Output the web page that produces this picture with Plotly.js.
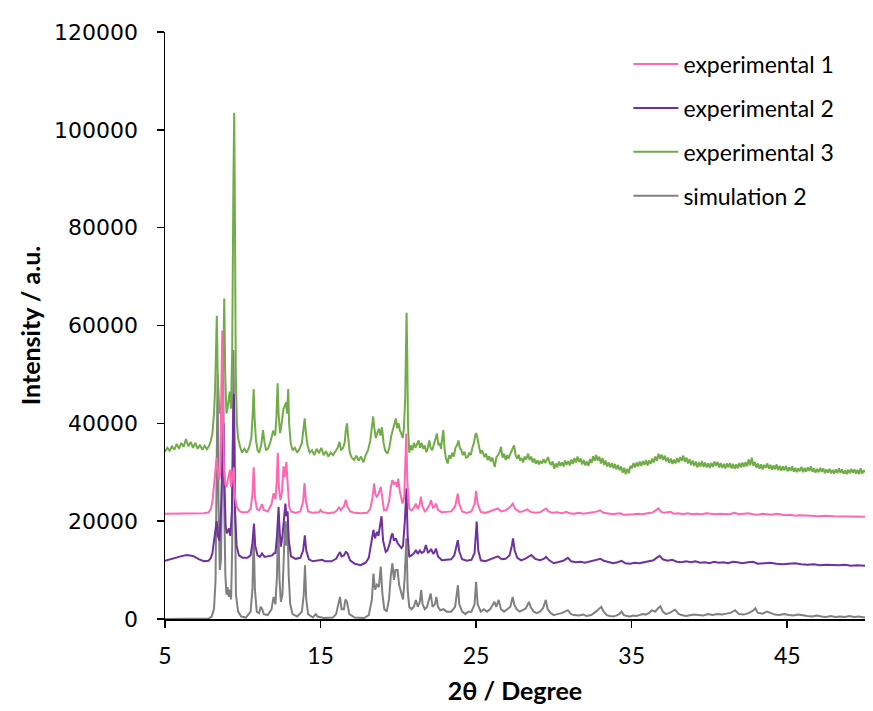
<!DOCTYPE html>
<html><head><meta charset="utf-8">
<script src="https://cdn.plot.ly/plotly-3.0.1.min.js"></script>
<style>html,body{margin:0;padding:0;background:#fff;}#chart{width:873px;height:711px;}</style>
</head><body><div id="chart"></div>
<script>
const seriesNames = ["experimental 1", "experimental 2", "experimental 3", "simulation 2"];
const seriesColors = ["#FF66B3", "#7030A0", "#70AD47", "#808080"];
const xTickVals = [5, 15, 25, 35, 45];
const yTickVals = [0, 20000, 40000, 60000, 80000, 100000, 120000];

const exp1 = [[5.0,21500],[5.5,21500],[6.0,21550],[6.5,21600],[7.0,21550],[7.5,21600],[7.8,21800],[7.95,22500],[8.05,24000],[8.15,27000],[8.25,30000],[8.32,33000],[8.4,30000],[8.48,28500],[8.55,30000],[8.62,42000],[8.68,59000],[8.74,40000],[8.8,30000],[8.88,27500],[8.95,27000],[9.02,28000],[9.1,29000],[9.18,30500],[9.25,27000],[9.33,29000],[9.42,31000],[9.5,25000],[9.6,23000],[9.8,22000],[10.0,21800],[10.3,21800],[10.5,22500],[10.62,25500],[10.7,31000],[10.78,25000],[10.9,22500],[11.05,22200],[11.13,22800],[11.24,23500],[11.35,22300],[11.6,22000],[11.85,23500],[11.98,25700],[12.1,24500],[12.18,28000],[12.25,34000],[12.32,27000],[12.42,24300],[12.52,26000],[12.62,31200],[12.7,29000],[12.8,32100],[12.88,27000],[12.98,23000],[13.1,22000],[13.4,21700],[13.7,22000],[13.88,24000],[13.97,27800],[14.06,24000],[14.2,22000],[14.5,21700],[14.9,21800],[15.0,22300],[15.1,21900],[15.5,21600],[15.9,21800],[16.05,22200],[16.18,22800],[16.3,22300],[16.5,23000],[16.62,24400],[16.72,23000],[16.9,22000],[17.2,21700],[17.6,21600],[18.0,21700],[18.2,22500],[18.35,25000],[18.44,27700],[18.53,25500],[18.6,25000],[18.72,25500],[18.87,27000],[18.98,24500],[19.08,22200],[19.25,22300],[19.4,24000],[19.52,27000],[19.62,28400],[19.72,27500],[19.84,28000],[19.92,27000],[19.99,28700],[20.1,26000],[20.27,23600],[20.38,25000],[20.46,31000],[20.51,37900],[20.58,28000],[20.7,22600],[20.85,22200],[21.0,22700],[21.13,23600],[21.25,22500],[21.38,23500],[21.45,25000],[21.55,23000],[21.7,22000],[21.85,22500],[22.0,23300],[22.1,24300],[22.22,22800],[22.35,23000],[22.42,23600],[22.55,22300],[22.8,21800],[23.1,21900],[23.4,22000],[23.65,23000],[23.75,24800],[23.82,25600],[23.92,23500],[24.1,22000],[24.4,21700],[24.7,22000],[24.9,23500],[25.0,26200],[25.1,23500],[25.3,21900],[25.6,21700],[25.9,22000],[26.15,22400],[26.4,22600],[26.6,22000],[26.9,22200],[27.15,22800],[27.36,23600],[27.5,22500],[27.8,21900],[28.0,22000],[28.3,22400],[28.5,21900],[28.8,21700],[29.1,21800],[29.35,22200],[29.5,22600],[29.65,22000],[29.9,21700],[30.2,21800],[30.5,21600],[30.8,21900],[31.0,21600],[31.3,21500],[31.6,21700],[31.9,21500],[32.2,21600],[32.5,21800],[32.8,22000],[32.96,22200],[33.2,21700],[33.5,21500],[33.8,21400],[34.0,21500],[34.25,21600],[34.5,21300],[34.8,21300],[35.1,21400],[35.4,21500],[35.7,21400],[36.0,21600],[36.3,21700],[36.55,22200],[36.72,22600],[36.9,21900],[37.1,21700],[37.3,21800],[37.5,21900],[37.7,21500],[38.0,21600],[38.3,21400],[38.6,21600],[38.9,21400],[39.2,21500],[39.5,21400],[39.8,21600],[40.1,21500],[40.4,21400],[40.7,21500],[41.0,21500],[41.3,21400],[41.6,21700],[41.9,21400],[42.2,21500],[42.5,21600],[42.8,21400],[43.1,21300],[43.4,21500],[43.7,21400],[44.0,21300],[44.3,21500],[44.6,21300],[44.9,21200],[45.2,21300],[45.5,21100],[45.8,21200],[46.1,21100],[46.5,21100],[47.0,21000],[47.5,21100],[48.0,21000],[48.5,21000],[49.0,21000],[49.5,20900],[50.0,20900]];

const exp2 = [[5.0,11900],[5.5,12400],[6.0,12800],[6.4,13100],[6.8,12900],[7.2,12200],[7.5,11800],[7.8,11900],[7.95,12500],[8.05,13500],[8.15,16000],[8.25,18000],[8.32,20000],[8.4,17000],[8.5,16000],[8.6,22000],[8.7,35000],[8.76,40000],[8.82,28000],[8.9,19000],[8.98,17500],[9.05,18000],[9.12,18500],[9.2,17000],[9.3,22000],[9.38,40000],[9.43,46000],[9.5,22000],[9.6,15000],[9.75,13000],[10.0,12500],[10.3,12500],[10.5,13000],[10.62,15500],[10.72,19500],[10.8,15000],[10.95,13000],[11.1,12700],[11.24,13400],[11.4,12700],[11.7,12800],[11.9,13000],[11.99,13400],[12.1,13500],[12.2,17000],[12.3,22900],[12.37,18000],[12.45,14800],[12.55,17000],[12.65,21000],[12.74,23600],[12.8,21000],[12.88,22000],[12.96,16000],[13.1,12800],[13.4,12300],[13.7,12500],[13.88,14000],[13.99,17100],[14.08,14000],[14.25,12200],[14.5,11800],[14.8,11900],[15.1,12100],[15.3,11800],[15.7,11800],[16.0,12300],[16.15,13200],[16.25,13700],[16.35,12800],[16.5,13000],[16.62,13700],[16.72,13500],[16.9,12000],[17.2,11300],[17.58,11000],[17.9,11500],[18.1,12500],[18.25,15000],[18.4,18200],[18.5,16500],[18.62,17800],[18.72,17000],[18.82,19000],[18.92,21000],[19.02,16000],[19.19,13700],[19.3,14000],[19.45,15500],[19.55,17000],[19.62,17500],[19.72,16000],[19.84,16500],[19.95,15500],[20.1,15000],[20.2,14500],[20.3,15000],[20.42,20000],[20.52,26700],[20.6,17000],[20.7,12700],[20.85,13000],[21.0,13400],[21.13,14100],[21.25,13300],[21.38,14000],[21.5,13500],[21.65,13800],[21.77,15100],[21.9,13600],[22.0,13800],[22.1,14300],[22.25,13300],[22.35,13800],[22.42,14400],[22.55,12800],[22.8,12000],[23.1,12100],[23.4,12200],[23.6,13000],[23.74,14800],[23.82,16100],[23.92,13800],[24.1,12200],[24.4,11900],[24.7,12100],[24.9,13500],[25.04,19900],[25.14,14000],[25.3,12000],[25.6,11800],[25.9,12100],[26.15,12500],[26.4,12800],[26.65,12200],[26.9,12300],[27.15,13000],[27.3,15000],[27.37,16500],[27.48,14000],[27.65,12500],[27.9,12000],[28.2,12400],[28.55,13100],[28.8,12300],[29.1,12000],[29.35,12300],[29.5,12700],[29.7,12000],[30.0,11400],[30.3,11700],[30.6,11900],[30.9,12500],[31.1,11800],[31.4,11600],[31.7,11700],[32.0,11500],[32.3,11700],[32.6,11900],[32.8,12100],[33.0,12300],[33.2,11900],[33.5,11600],[33.8,11400],[34.1,11600],[34.35,11900],[34.6,11400],[34.9,11300],[35.2,11500],[35.5,11400],[35.8,11600],[36.1,11800],[36.4,12000],[36.6,12500],[36.8,12900],[37.0,12200],[37.3,11900],[37.6,12100],[37.9,11700],[38.2,11600],[38.5,11800],[38.8,11600],[39.1,11800],[39.4,11500],[39.7,11600],[40.0,11400],[40.3,11700],[40.6,11500],[40.9,11600],[41.2,11400],[41.5,11700],[41.8,11600],[42.1,11400],[42.5,11600],[42.8,11700],[43.1,11300],[43.5,11400],[43.9,11500],[44.3,11300],[44.7,11200],[45.1,11300],[45.5,11400],[45.9,11200],[46.3,11100],[46.7,11200],[47.1,11000],[47.5,11100],[47.9,11000],[48.3,11000],[48.7,11100],[49.1,10900],[49.5,11000],[50.0,10900]];

const exp3 = [[5.0,34200],[5.15,35000],[5.3,34400],[5.45,35300],[5.6,34600],[5.75,35800],[5.9,34800],[6.05,36000],[6.2,35200],[6.35,36800],[6.5,35300],[6.65,36200],[6.8,35000],[6.95,36000],[7.1,34800],[7.25,35600],[7.4,34600],[7.55,35400],[7.7,34700],[7.85,35500],[7.95,36500],[8.05,38000],[8.15,42000],[8.22,47000],[8.28,55000],[8.33,62000],[8.39,50000],[8.47,44000],[8.55,42000],[8.65,44000],[8.74,52000],[8.81,65500],[8.87,50000],[8.95,42000],[9.02,43000],[9.1,45000],[9.16,46500],[9.24,43000],[9.32,55000],[9.4,90000],[9.45,103500],[9.5,80000],[9.55,50000],[9.62,40000],[9.7,37000],[9.8,35500],[9.95,34000],[10.1,34800],[10.25,34000],[10.4,35000],[10.55,37000],[10.64,42000],[10.7,47000],[10.76,41000],[10.85,36500],[10.95,34500],[11.05,34000],[11.18,35500],[11.3,38600],[11.4,36000],[11.5,34500],[11.65,35000],[11.8,36500],[11.95,38500],[12.08,37500],[12.16,41000],[12.24,48200],[12.3,42000],[12.4,38000],[12.5,40000],[12.62,43000],[12.7,43500],[12.78,44300],[12.85,42000],[12.92,47000],[12.98,40000],[13.08,36000],[13.2,34500],[13.35,35000],[13.5,34000],[13.65,34800],[13.8,36000],[13.9,38500],[13.98,41000],[14.06,38000],[14.16,35500],[14.3,34000],[14.45,34500],[14.6,33500],[14.75,34800],[14.9,33900],[15.05,35000],[15.2,33500],[15.35,34300],[15.5,33200],[15.65,34000],[15.8,33500],[15.95,34400],[16.1,35000],[16.22,36200],[16.32,34500],[16.45,35000],[16.55,36000],[16.62,38500],[16.7,40000],[16.78,37000],[16.88,34000],[17.0,33000],[17.15,32500],[17.3,33400],[17.45,32400],[17.6,33200],[17.75,32000],[17.9,33500],[18.05,34500],[18.2,36500],[18.3,39000],[18.38,41400],[18.46,39000],[18.55,37000],[18.65,38000],[18.76,38900],[18.85,37500],[18.95,39200],[19.05,36000],[19.15,34500],[19.3,33800],[19.42,35000],[19.55,37500],[19.66,39000],[19.76,40000],[19.84,41000],[19.92,39000],[20.02,40000],[20.1,38500],[20.18,38000],[20.28,37000],[20.36,39000],[20.44,45000],[20.5,60000],[20.53,62600],[20.57,55000],[20.62,40000],[20.7,34000],[20.8,35500],[20.9,34500],[21.0,36000],[21.1,35000],[21.2,35800],[21.3,36500],[21.4,35000],[21.5,36000],[21.6,34800],[21.7,35500],[21.8,34100],[21.9,35000],[21.99,36500],[22.08,35000],[22.18,34500],[22.28,35800],[22.38,36800],[22.48,37900],[22.58,35500],[22.66,36000],[22.74,34800],[22.82,36500],[22.89,38600],[22.97,35000],[23.05,33000],[23.17,31800],[23.27,33500],[23.37,32800],[23.47,34000],[23.57,33200],[23.67,35000],[23.77,35500],[23.87,36500],[23.95,35000],[24.05,34500],[24.15,33500],[24.25,34200],[24.35,33000],[24.46,33100],[24.56,34000],[24.66,33500],[24.76,35000],[24.86,36000],[24.94,37500],[25.0,38000],[25.08,37000],[25.18,35000],[25.28,33800],[25.38,34500],[25.46,33500],[25.54,33100],[25.64,33800],[25.74,32500],[25.84,33300],[25.94,32200],[26.04,33000],[26.12,31800],[26.2,31100],[26.3,33000],[26.4,33500],[26.5,34000],[26.6,35200],[26.7,33000],[26.8,33800],[26.9,32500],[27.0,33500],[27.08,32800],[27.18,33600],[27.28,34500],[27.36,35000],[27.44,35500],[27.54,33500],[27.64,32800],[27.74,33600],[27.82,32400],[27.92,32900],[28.02,32000],[28.12,33200],[28.22,32600],[28.34,33800],[28.44,32500],[28.54,33200],[28.64,32000],[28.74,32800],[28.84,31700],[28.94,32500],[29.04,31600],[29.14,32300],[29.24,31800],[29.34,32700],[29.44,31900],[29.54,32500],[29.63,33100],[29.72,32000],[29.82,31500],[29.92,32200],[30.02,30700],[30.12,31800],[30.22,31000],[30.32,32200],[30.42,31300],[30.52,32000],[30.62,31200],[30.72,32400],[30.82,31500],[30.92,32300],[31.02,31400],[31.12,32600],[31.22,31700],[31.32,32900],[31.42,32000],[31.52,33200],[31.62,32100],[31.72,32800],[31.82,31600],[31.92,32500],[32.02,31400],[32.12,32200],[32.22,31300],[32.32,32700],[32.42,31900],[32.52,33300],[32.62,32300],[32.72,33500],[32.82,32400],[32.92,33200],[33.02,31800],[33.12,32900],[33.22,31500],[33.32,32400],[33.42,31200],[33.52,32000],[33.62,31000],[33.72,31900],[33.82,30800],[33.92,31700],[34.02,30600],[34.12,31500],[34.22,30400],[34.32,31200],[34.42,29900],[34.52,30900],[34.62,29600],[34.72,30700],[34.82,29800],[34.92,31300],[35.02,30800],[35.12,31900],[35.22,31000],[35.32,32000],[35.42,31200],[35.52,32200],[35.62,31300],[35.72,32300],[35.82,31500],[35.92,32500],[36.02,31400],[36.12,32400],[36.22,31700],[36.32,32800],[36.42,32000],[36.52,33200],[36.62,32300],[36.72,33800],[36.82,32700],[36.92,33600],[37.02,32500],[37.12,33400],[37.22,32200],[37.32,33000],[37.42,31900],[37.52,32800],[37.62,31700],[37.72,32600],[37.82,31800],[37.92,32900],[38.02,32000],[38.12,33100],[38.22,32300],[38.32,33400],[38.42,32100],[38.52,33000],[38.62,31800],[38.72,32700],[38.82,31500],[38.92,32400],[39.02,31300],[39.12,32200],[39.22,31000],[39.32,32000],[39.42,31200],[39.52,32300],[39.62,31100],[39.72,32000],[39.82,31000],[39.92,31800],[40.02,30900],[40.12,31900],[40.22,31100],[40.32,32200],[40.42,31300],[40.52,32100],[40.62,31000],[40.72,31900],[40.82,30900],[40.92,31700],[41.02,30800],[41.12,31800],[41.22,31000],[41.32,31900],[41.42,30800],[41.52,31700],[41.62,30700],[41.72,31600],[41.82,30800],[41.92,31900],[42.02,31000],[42.12,32000],[42.22,31100],[42.32,32100],[42.42,31200],[42.52,32600],[42.62,31400],[42.72,33000],[42.82,31300],[42.92,32100],[43.02,30900],[43.12,31800],[43.22,30700],[43.32,31600],[43.42,30600],[43.52,31500],[43.62,30900],[43.72,31800],[43.82,30700],[43.92,31500],[44.02,30500],[44.12,31400],[44.22,30600],[44.32,31600],[44.42,30400],[44.52,31300],[44.62,30300],[44.72,31200],[44.82,30400],[44.92,31300],[45.02,30200],[45.12,31000],[45.22,30300],[45.32,31200],[45.42,30100],[45.52,30900],[45.62,30000],[45.72,30800],[45.82,30200],[45.92,31100],[46.02,30000],[46.12,30900],[46.22,30100],[46.32,31000],[46.42,30300],[46.52,31200],[46.62,30100],[46.72,30800],[46.82,29900],[46.92,30700],[47.02,30000],[47.12,30900],[47.22,30100],[47.32,30800],[47.42,29800],[47.52,30600],[47.62,29900],[47.72,30700],[47.82,29800],[47.92,30500],[48.02,29700],[48.12,30600],[48.22,29800],[48.32,30800],[48.42,29900],[48.52,30600],[48.62,29700],[48.72,30400],[48.82,29600],[48.92,30500],[49.02,29800],[49.12,30700],[49.22,29900],[49.32,30600],[49.42,29700],[49.52,30500],[49.62,29600],[49.72,30800],[49.82,29700],[49.92,30400],[50.0,30000]];

const sim2 = [[5.0,0],[6.0,0],[7.0,0],[7.8,100],[8.0,500],[8.15,2000],[8.25,8000],[8.32,25000],[8.38,50000],[8.44,24000],[8.52,10000],[8.6,12000],[8.68,30000],[8.74,52000],[8.8,25000],[8.88,9000],[8.95,5000],[9.02,6500],[9.1,4500],[9.18,6000],[9.25,4000],[9.32,15000],[9.4,55000],[9.48,20000],[9.56,5000],[9.7,1500],[9.9,500],[10.2,300],[10.5,1500],[10.62,6000],[10.7,17000],[10.78,6000],[10.9,1500],[11.05,1200],[11.15,2500],[11.25,2000],[11.35,1000],[11.6,800],[11.85,2000],[11.98,4500],[12.1,3000],[12.2,9000],[12.28,20000],[12.36,8000],[12.45,3500],[12.55,5000],[12.65,14000],[12.72,20000],[12.8,15000],[12.87,20000],[12.95,9000],[13.05,3000],[13.2,1000],[13.5,500],[13.8,1500],[13.92,5000],[14.0,11000],[14.08,4000],[14.2,1000],[14.5,300],[14.7,1000],[14.8,500],[15.2,200],[15.8,300],[16.0,1000],[16.15,3000],[16.25,4500],[16.35,2000],[16.5,2000],[16.6,4000],[16.7,3500],[16.85,1000],[17.2,300],[17.8,200],[18.1,800],[18.3,4000],[18.4,9300],[18.5,6000],[18.62,7000],[18.75,6500],[18.87,10700],[18.98,5000],[19.1,2000],[19.25,1500],[19.4,4000],[19.52,9000],[19.62,11400],[19.72,8000],[19.82,10000],[19.95,10000],[20.05,7000],[20.2,5200],[20.3,4000],[20.4,8000],[20.52,16500],[20.6,6000],[20.7,2500],[20.85,2000],[21.0,2500],[21.13,3900],[21.25,2500],[21.38,3500],[21.47,5900],[21.56,3000],[21.7,2000],[21.85,2500],[22.0,4500],[22.08,5200],[22.2,2500],[22.35,3000],[22.44,4500],[22.55,2500],[22.7,1800],[22.9,2000],[23.1,1500],[23.4,1500],[23.65,2500],[23.75,5000],[23.83,6900],[23.92,3000],[24.1,1500],[24.3,1000],[24.5,1500],[24.7,1500],[24.9,3000],[25.0,7600],[25.1,3000],[25.3,1500],[25.5,2000],[25.7,1500],[25.9,2000],[26.05,2800],[26.18,3500],[26.3,2500],[26.45,3900],[26.6,2000],[26.8,1500],[27.0,2000],[27.2,2500],[27.35,4500],[27.45,3000],[27.6,2000],[27.8,1500],[28.0,1800],[28.2,2200],[28.4,3500],[28.5,2500],[28.7,1500],[28.9,1200],[29.1,1500],[29.3,2200],[29.48,3900],[29.6,2000],[29.8,1200],[30.0,800],[30.2,1000],[30.5,1200],[30.7,1500],[30.9,1800],[31.1,1000],[31.3,800],[31.6,700],[31.9,900],[32.1,600],[32.4,800],[32.7,1500],[32.9,2200],[33.05,2500],[33.2,1500],[33.4,800],[33.6,600],[33.8,500],[34.0,700],[34.2,1000],[34.35,1500],[34.5,800],[34.7,600],[34.9,500],[35.1,700],[35.3,600],[35.5,800],[35.7,1000],[35.9,900],[36.1,1200],[36.3,1800],[36.5,1500],[36.7,2200],[36.85,2600],[37.0,1500],[37.2,1000],[37.4,1200],[37.6,1500],[37.8,1900],[38.0,1100],[38.2,800],[38.5,600],[38.8,700],[39.0,900],[39.3,800],[39.6,700],[39.9,1000],[40.2,800],[40.5,1000],[40.8,900],[41.1,1100],[41.4,1300],[41.65,1800],[41.9,1000],[42.2,900],[42.5,1200],[42.8,1700],[42.95,2200],[43.1,1300],[43.4,1100],[43.7,1500],[43.9,1200],[44.2,900],[44.5,800],[44.8,1000],[45.1,800],[45.4,700],[45.7,900],[46.0,700],[46.3,600],[46.6,500],[46.9,700],[47.2,500],[47.5,400],[47.8,600],[48.1,400],[48.4,500],[48.7,400],[49.0,600],[49.3,400],[49.6,500],[50.0,300]];

const seriesData = [exp1, exp2, exp3, sim2];
// draw order: simulation first (bottom), experimental 1 last (top)
const drawOrder = [3, 2, 1, 0];

const traces = drawOrder.map(function (i) {
  const d = seriesData[i];
  return {
    type: 'scatter',
    mode: 'lines',
    name: seriesNames[i],
    legendgroup: 'g' + i,
    legendrank: i + 1,
    x: d.map(function (p) { return p[0]; }),
    y: d.map(function (p) { return p[1]; }),
    line: {color: seriesColors[i], width: 2}
  };
});

const layout = {
  width: 873,
  height: 711,
  margin: {l: 165, r: 8, t: 32, b: 92},
  paper_bgcolor: '#ffffff',
  plot_bgcolor: '#ffffff',
  showlegend: true,
  legend: {
    x: 0.662, y: 0.982, xanchor: 'left', yanchor: 'top',
    traceorder: 'grouped', tracegroupgap: 11,
    itemwidth: 45,
    font: {family: 'Lato, "Open Sans", sans-serif', size: 23, color: '#000'},
    bgcolor: 'rgba(0,0,0,0)'
  },
  xaxis: {
    range: [5, 50],
    tickvals: xTickVals,
    ticktext: xTickVals.map(String),
    ticks: 'outside', ticklen: 7, tickwidth: 1.5, tickcolor: '#000',
    ticklabelstandoff: 9,
    showline: true, linecolor: '#000', linewidth: 1.5,
    showgrid: false, zeroline: false,
    tickfont: {family: 'Lato, "Open Sans", sans-serif', size: 23, color: '#000'},
    title: {text: '2θ / Degree', font: {family: 'Lato, "Open Sans", sans-serif', size: 25, color: '#000', weight: 'bold'}, standoff: 14}
  },
  yaxis: {
    range: [0, 120000],
    tickvals: yTickVals,
    tickformat: 'd',
    ticks: 'outside', ticklen: 7, tickwidth: 1.5, tickcolor: '#000',
    ticklabelstandoff: 14,
    showline: true, linecolor: '#000', linewidth: 1.5,
    showgrid: false, zeroline: false,
    tickfont: {family: '"DejaVu Sans", Verdana, sans-serif', size: 22, color: '#000'},
    title: {text: 'Intensity / a.u.', font: {family: 'Lato, "Open Sans", sans-serif', size: 25, color: '#000', weight: 'bold'}, standoff: 6}
  }
};

Plotly.newPlot('chart', traces, layout, {displayModeBar: false, staticPlot: true});
</script>
</body></html>
